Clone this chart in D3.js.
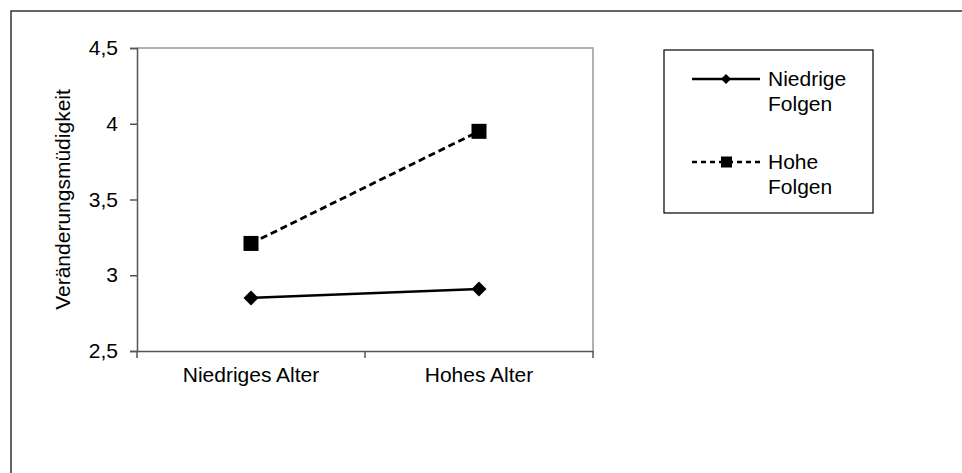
<!DOCTYPE html>
<html><head><meta charset="utf-8">
<script src="https://cdn.jsdelivr.net/npm/d3@7"></script>
<style>body{margin:0;background:#fff}svg{display:block}text{font-family:"Liberation Sans",Arial,sans-serif;fill:#000}</style>
</head><body><svg id="c" width="962" height="473"></svg>
<script>
const categories = ["Niedriges Alter", "Hohes Alter"];
const seriesNames = ["Niedrige Folgen", "Hohe Folgen"];
const niedrigeFolgen = [2.85, 2.91];
const hoheFolgen = [3.21, 3.95];
const yTicks = [2.5, 3, 3.5, 4, 4.5];
const yTitle = "Veränderungsmüdigkeit";

const svg = d3.select("#c");
const FS = 21;
// outer frame
svg.append("rect").attr("x", 11).attr("y", 11).attr("width", 1000).attr("height", 1000)
  .attr("fill", "none").attr("stroke", "#333").attr("stroke-width", 1.5);

const L = 137, R = 593, T = 48, B = 351;
const x = d3.scaleBand().domain(categories).range([L, R]);
const y = d3.scaleLinear().domain([2.5, 4.5]).range([B, T]);

// plot border top/right
svg.append("path").attr("d", `M${L},${T}H${R}V${B}`).attr("fill", "none").attr("stroke", "#999").attr("stroke-width", 1.5);

const yAxis = svg.append("g").attr("transform", `translate(${L},0)`)
  .call(d3.axisLeft(y).tickValues(yTicks).tickSize(7).tickFormat(d => d3.format(".1~f")(d).replace(".", ",")));
yAxis.select(".domain").attr("stroke", "#555").attr("stroke-width", 1.5);
yAxis.selectAll(".tick line").attr("stroke", "#555").attr("stroke-width", 1.5);
yAxis.selectAll(".tick text").attr("font-size", FS).attr("x", -19).style("font-family", '"Liberation Sans",Arial,sans-serif').attr("fill", "#000");

const xAxis = svg.append("g").attr("transform", `translate(0,${B})`)
  .call(d3.axisBottom(x).tickSize(0).tickSizeOuter(0));
xAxis.select(".domain").attr("stroke", "#555").attr("stroke-width", 1.5);
xAxis.selectAll(".tick text").attr("font-size", FS).attr("y", 16).attr("dy", "0.71em").style("font-family", '"Liberation Sans",Arial,sans-serif').attr("fill", "#000");
// category boundary ticks
const bounds = [L, ...categories.slice(1).map(c => x(c)), R];
svg.append("g").selectAll("line").data(bounds).join("line")
  .attr("x1", d => d).attr("x2", d => d).attr("y1", B).attr("y2", B + 7)
  .attr("stroke", "#555").attr("stroke-width", 1.5);

// y title
svg.append("text").attr("transform", `translate(62,${(T + B) / 2}) rotate(-90)`)
  .attr("text-anchor", "middle").attr("dominant-baseline", "central").attr("font-size", FS).text(yTitle);

const cx = c => x(c) + x.bandwidth() / 2;
const line = d3.line().x((d, i) => cx(categories[i])).y(d => y(d));
svg.append("path").datum(niedrigeFolgen).attr("d", line).attr("fill", "none").attr("stroke", "#000").attr("stroke-width", 2.5);
svg.append("path").datum(hoheFolgen).attr("d", line).attr("fill", "none").attr("stroke", "#000").attr("stroke-width", 2.8).attr("stroke-dasharray", "7,4");

const diamond = (s) => `M0,${-s}L${s},0L0,${s}L${-s},0Z`;
svg.append("g").selectAll("path").data(niedrigeFolgen).join("path")
  .attr("transform", (d, i) => `translate(${cx(categories[i])},${y(d)})`).attr("d", diamond(7.5)).attr("fill", "#000");
svg.append("g").selectAll("rect").data(hoheFolgen).join("rect")
  .attr("x", (d, i) => cx(categories[i]) - 7.5).attr("y", d => y(d) - 7.5).attr("width", 15).attr("height", 15).attr("fill", "#000");

// legend
svg.append("rect").attr("x", 664).attr("y", 50).attr("width", 209).attr("height", 163).attr("fill", "#fff").attr("stroke", "#000").attr("stroke-width", 1.2);
const lg = [{ name: seriesNames[0], y: 79, dash: null, m: "d" }, { name: seriesNames[1], y: 162, dash: "5,4", m: "s" }];
lg.forEach(it => {
  svg.append("line").attr("x1", 692).attr("x2", 760).attr("y1", it.y).attr("y2", it.y)
    .attr("stroke", "#000").attr("stroke-width", 2.5).attr("stroke-dasharray", it.dash);
  if (it.m === "d") svg.append("path").attr("transform", `translate(726,${it.y})`).attr("d", diamond(5)).attr("fill", "#000");
  else svg.append("rect").attr("x", 721).attr("y", it.y - 5.5).attr("width", 11).attr("height", 11).attr("fill", "#000");
  const words = it.name.split(" ");
  const t = svg.append("text").attr("x", 768).attr("y", it.y + 7).attr("font-size", FS);
  words.forEach((w, i) => t.append("tspan").attr("x", 768).attr("dy", i === 0 ? 0 : 25).text(w));
});
</script></body></html>
